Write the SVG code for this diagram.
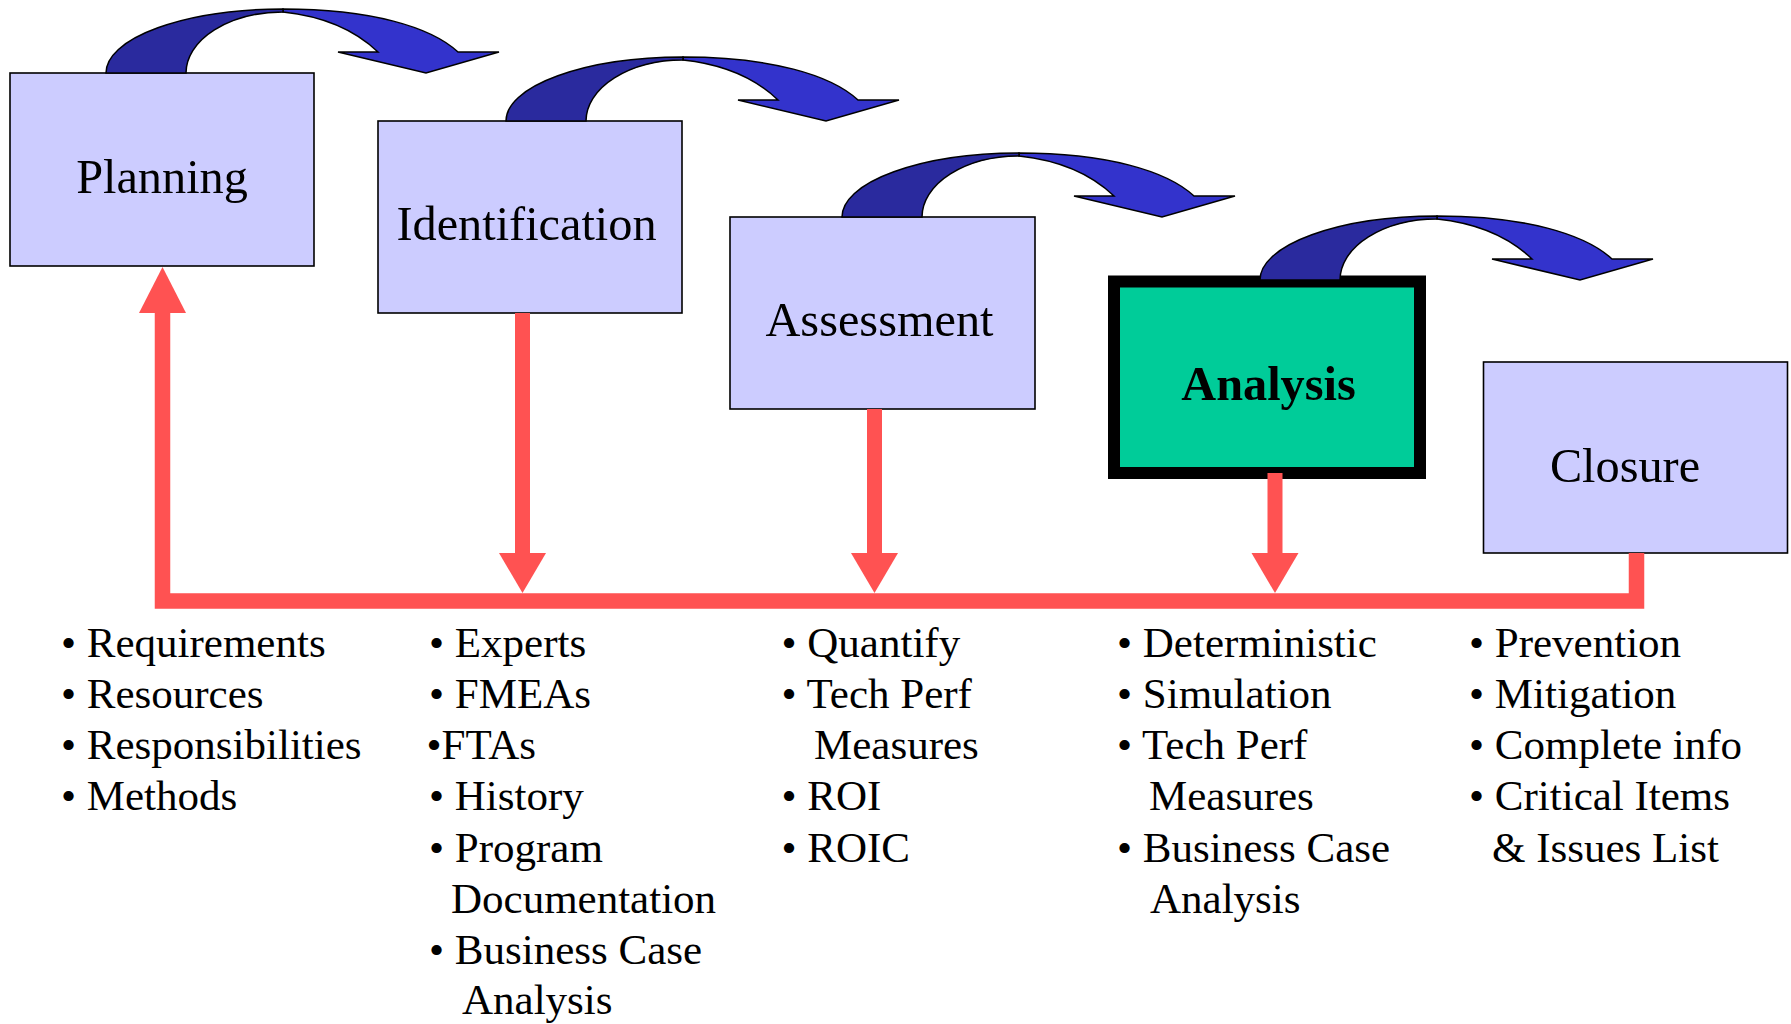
<svg xmlns="http://www.w3.org/2000/svg" xmlns:xlink="http://www.w3.org/1999/xlink" width="1791" height="1024" viewBox="0 0 1791 1024">
  <style>
    .box { fill: #ccccff; stroke: #000; stroke-width: 1.6; }
    .focus { fill: #00cc99; stroke: #000; stroke-width: 12; }
    .title { font-family: "Liberation Serif", "Times New Roman", serif; font-size: 48.3px; fill: #000; text-anchor: middle; }
    .bold { font-weight: bold; }
    .list { font-family: "Liberation Serif", "Times New Roman", serif; font-size: 43px; fill: #000; }
    .curl-dark { fill: #2a2a9e; stroke: #000; stroke-width: 1.5; stroke-linejoin: miter; }
    .curl-light { fill: #3333cc; stroke: #000; stroke-width: 1.5; stroke-linejoin: miter; }
    .feed { fill: none; stroke: #ff5252; stroke-width: 15.5; stroke-linejoin: miter; }
    .head { fill: #ff5252; }
  </style>
  <defs>
    <!-- curved step arrow, origin at the outer foot of the arc -->
    <g id="curl">
      <path class="curl-light" d="M177,-64 C265,-64 325,-46 352,-21 L393,-21 L320,0 L232,-21 L272,-21 C248,-44 215,-57 177,-61 Z"/>
      <path class="curl-dark" d="M0,0 A177,64 0 0 1 177,-64 L177,-61 A97,61 0 0 0 80,0 Z"/>
    </g>
  </defs>

  <!-- process steps -->
  <g id="planning">
    <rect class="box" x="10" y="73" width="304" height="193"/>
    <text class="title" x="162" y="193">Planning</text>
  </g>
  <g id="identification">
    <rect class="box" x="378" y="121" width="304" height="192"/>
    <text class="title" x="526.5" y="240">Identification</text>
  </g>
  <g id="assessment">
    <rect class="box" x="730" y="217" width="305" height="192"/>
    <text class="title" x="879.5" y="336">Assessment</text>
  </g>
  <g id="analysis">
    <rect class="focus" x="1114" y="281.5" width="306" height="191.5"/>
    <text class="title bold" x="1268.5" y="400">Analysis</text>
  </g>
  <g id="closure">
    <rect class="box" x="1483.5" y="362" width="304" height="191"/>
    <text class="title" x="1625" y="482">Closure</text>
  </g>

  <!-- step-to-step arrows and feedback lines -->
  <g id="connectors">
    <use xlink:href="#curl" href="#curl" transform="translate(106,73)"/>
    <use xlink:href="#curl" href="#curl" transform="translate(506,121)"/>
    <use xlink:href="#curl" href="#curl" transform="translate(842,217)"/>
    <use xlink:href="#curl" href="#curl" transform="translate(1260,280)"/>

    <path class="feed" d="M1636.5,553 V601 H162.5 V312"/>
    <polygon class="head" points="139,313 186,313 162.5,267"/>

    <path class="feed" d="M522.5,313 V555" style="stroke-width:15"/>
    <polygon class="head" points="499,553 546,553 522.5,593"/>

    <path class="feed" d="M874.5,409 V555" style="stroke-width:15"/>
    <polygon class="head" points="851,553 898,553 874.5,593"/>

    <path class="feed" d="M1275,473 V555" style="stroke-width:15"/>
    <polygon class="head" points="1251.5,553 1298.5,553 1275,593"/>
  </g>

  <!-- activity lists under each step -->
  <g id="planning-items" class="list">
    <text x="61" y="657">• Requirements</text>
    <text x="61" y="708">• Resources</text>
    <text x="61" y="759">• Responsibilities</text>
    <text x="61" y="810">• Methods</text>
  </g>
  <g id="identification-items" class="list">
    <text x="429" y="657">• Experts</text>
    <text x="429" y="708">• FMEAs</text>
    <text x="426.5" y="759">•FTAs</text>
    <text x="429" y="810">• History</text>
    <text x="429" y="861.5">• Program</text>
    <text x="451" y="913">Documentation</text>
    <text x="429" y="964">• Business Case</text>
    <text x="462" y="1014">Analysis</text>
  </g>
  <g id="assessment-items" class="list">
    <text x="781.5" y="657">• Quantify</text>
    <text x="781.5" y="708">• Tech Perf</text>
    <text x="814" y="759">Measures</text>
    <text x="781.5" y="810">• ROI</text>
    <text x="781.5" y="861.5">• ROIC</text>
  </g>
  <g id="analysis-items" class="list">
    <text x="1117" y="657">• Deterministic</text>
    <text x="1117" y="708">• Simulation</text>
    <text x="1117" y="759">• Tech Perf</text>
    <text x="1149" y="810">Measures</text>
    <text x="1117" y="861.5">• Business Case</text>
    <text x="1150" y="913">Analysis</text>
  </g>
  <g id="closure-items" class="list">
    <text x="1469" y="657">• Prevention</text>
    <text x="1469" y="708">• Mitigation</text>
    <text x="1469" y="759">• Complete info</text>
    <text x="1469" y="810">• Critical Items</text>
    <text x="1492" y="861.5">&amp; Issues List</text>
  </g>
</svg>
